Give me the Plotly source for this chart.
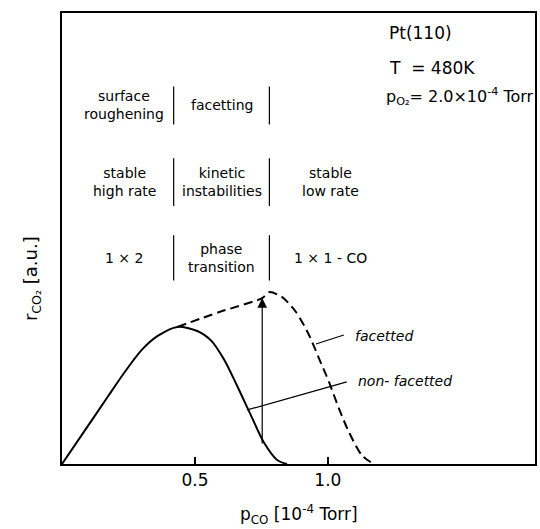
import plotly.graph_objects as go

# ---- data ----
nonfac_x = [0.0, 0.097, 0.172, 0.236, 0.300, 0.360, 0.434, 0.509, 0.562, 0.610, 0.659, 0.712, 0.760, 0.809, 0.846]
nonfac_y = [0.0, 0.084, 0.149, 0.204, 0.253, 0.284, 0.304, 0.295, 0.273, 0.231, 0.173, 0.106, 0.047, 0.009, 0.0]

fac_x = [0.434, 0.592, 0.753, 0.779, 0.828, 0.880, 0.929, 0.966, 1.004, 1.041, 1.079, 1.127, 1.172]
fac_y = [0.304, 0.337, 0.368, 0.381, 0.370, 0.337, 0.286, 0.235, 0.182, 0.124, 0.071, 0.020, 0.0]

jump_x = 0.753
jump_y = [0.042, 0.368]

region_edges = [0.42, 0.78]
row_y = [0.795, 0.625, 0.457]
row_half = [0.042, 0.053, 0.05]
rows = [
    ["surface<br>roughening", "facetting", ""],
    ["stable<br>high rate", "kinetic<br>instabilities", "stable<br>low rate"],
    ["1 × 2", "phase<br>transition", "1 × 1 - CO"],
]
col_x = [0.235, 0.60, 1.01]

tick_vals = [0.5, 1.0]
tick_text = ["0.5", "1.0"]

FONT = "DejaVu Sans"

fig = go.Figure()
fig.add_trace(go.Scatter(x=nonfac_x, y=nonfac_y, mode="lines",
                         line=dict(color="black", width=2, shape="spline", smoothing=0.8),
                         showlegend=False, hoverinfo="skip"))
fig.add_trace(go.Scatter(x=fac_x, y=fac_y, mode="lines",
                         line=dict(color="black", width=2, dash="9px,5px", shape="spline", smoothing=0.8),
                         showlegend=False, hoverinfo="skip"))

annotations = []
shapes = []

# jump arrow
annotations.append(dict(x=jump_x, y=jump_y[1], ax=jump_x, ay=jump_y[0], xref="x", yref="y",
                        axref="x", ayref="y", showarrow=True, arrowhead=2, arrowsize=1.6,
                        arrowwidth=1.2, arrowcolor="black", text=""))

# regime table
for r, (row, yc, hh) in enumerate(zip(rows, row_y, row_half)):
    for c, txt in enumerate(row):
        if txt:
            annotations.append(dict(x=col_x[c], y=yc, xref="x", yref="y", text=txt, showarrow=False,
                                    font=dict(family=FONT, size=14, color="black"), align="center"))
    for e in region_edges:
        shapes.append(dict(type="line", x0=e, x1=e, y0=yc - hh, y1=yc + hh, xref="x", yref="y",
                           line=dict(color="black", width=1.2)))

# curve labels with leader lines
shapes.append(dict(type="line", x0=0.955, y0=0.266, x1=1.060, y1=0.286, xref="x", yref="y",
                   line=dict(color="black", width=1.2)))
shapes.append(dict(type="line", x0=0.697, y0=0.120, x1=1.071, y1=0.182, xref="x", yref="y",
                   line=dict(color="black", width=1.2)))
annotations.append(dict(x=1.094, y=0.284, xref="x", yref="y", text="<i>facetted</i>", showarrow=False,
                        xanchor="left", font=dict(family=FONT, size=14, color="black")))
annotations.append(dict(x=1.105, y=0.184, xref="x", yref="y", text="<i>non- facetted</i>", showarrow=False,
                        xanchor="left", font=dict(family=FONT, size=14, color="black")))

# condition text
annotations.append(dict(x=0.687, y=0.955, xref="paper", yref="paper", text="Pt(110)", showarrow=False,
                        xanchor="left", yanchor="middle", font=dict(family=FONT, size=17, color="black")))
annotations.append(dict(x=0.687, y=0.878, xref="paper", yref="paper", text="T  = 480K", showarrow=False,
                        xanchor="left", yanchor="middle", font=dict(family=FONT, size=17, color="black")))
annotations.append(dict(x=0.680, y=0.814, xref="paper", yref="paper",
                        text="p<sub>O₂</sub>= 2.0×10<sup>-4</sup> Torr", showarrow=False,
                        xanchor="left", yanchor="middle", font=dict(family=FONT, size=16, color="black")))

# axis titles
annotations.append(dict(x=-0.093, y=0.41, xref="paper", yref="paper", text="r<sub>CO₂</sub> [a.u.]",
                        textangle=-90, showarrow=False, font=dict(family=FONT, size=18, color="black")))
annotations.append(dict(x=0.5, y=-0.113, xref="paper", yref="paper", text="p<sub>CO</sub> [10<sup>-4</sup> Torr]",
                        showarrow=False, yanchor="middle", font=dict(family=FONT, size=17, color="black")))

fig.update_layout(
    width=540, height=529,
    margin=dict(l=62, r=3, t=13, b=65),
    paper_bgcolor="white", plot_bgcolor="white",
    annotations=annotations, shapes=shapes,
    showlegend=False,
    xaxis=dict(range=[0, 1.779], tickvals=tick_vals, ticktext=tick_text, ticks="inside",
               ticklen=7, tickwidth=1.5, tickcolor="black", showgrid=False, zeroline=False,
               showline=True, linecolor="black", linewidth=1.5, mirror=True,
               tickfont=dict(family=FONT, size=17, color="black")),
    yaxis=dict(range=[0, 1], showticklabels=False, ticks="", showgrid=False, zeroline=False,
               showline=True, linecolor="black", linewidth=1.5, mirror=True),
)

fig.write_html("out.html")
